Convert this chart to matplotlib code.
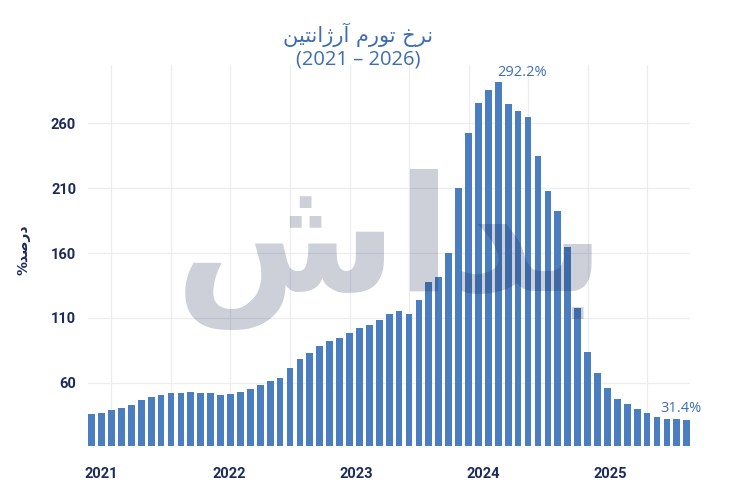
import matplotlib
matplotlib.use("Agg")
import matplotlib.pyplot as plt
import numpy as np
import pandas as pd

# ---- data (monthly YoY inflation, Nov 2020 - Nov 2025) ----
months = pd.date_range("2020-11-01", periods=61, freq="MS").strftime("%Y-%m").tolist()
inflation = [35.6, 36.4, 38.9, 40.8, 42.8, 46.9, 48.9, 50.8, 51.8, 51.8,
             52.8, 51.8, 51.8, 50.8, 51.0, 52.8, 55.1, 57.9, 61.0, 63.8,
             71.0, 78.2, 83.3, 88.2, 92.3, 94.3, 98.5, 102.3, 104.3, 108.5,
             113.3, 115.6, 113.3, 123.5, 137.4, 141.5, 160.0, 210.5, 252.8, 276.0,
             285.6, 292.2, 275.0, 269.7, 264.6, 235.1, 208.2, 192.1, 164.6, 117.7,
             83.8, 67.2, 55.6, 47.7, 43.8, 39.5, 36.4, 33.5, 31.8, 31.8,
             31.4]
year_labels = ["2021", "2022", "2023", "2024", "2025"]
y_ticks = [60, 110, 160, 210, 260]
peak_label = "292.2%"
last_label = "31.4%"

# Persian texts (presentation forms, visual order)
title_fa = ("\uFEE6\uFEF4\uFE98\uFEE7\uFE8D\uFB8A\uFEAD\uFE81 "
            "\uFEE1\uFEAD\uFEEE\uFE97 "
            "\uFEA5\uFEAE\uFEE7")
title_years = "(2021 \u2013 2026)"
ylabel_fa = "%\uFEAA\uFEBB\uFEAD\uFEA9"
watermark = "\uFEB5\uFE8D\uFEAA\uFE91"

BAR = "#4a7ec0"
NAVY = "#1d2b5c"
TBLUE = "#3d6db3"
TICKFONT = ["Roboto", "DejaVu Sans"]

fig = plt.figure(figsize=(7.5, 5), dpi=100)
ax = fig.add_axes([0.1173, 0.108, 0.8027, 0.762])

x = np.arange(len(inflation))
ax.bar(x, inflation, width=0.68, color=BAR, zorder=2)

ax.set_xlim(-0.37, len(inflation) - 1 + 0.33)
ax.set_ylim(11.2, 305)

# gridlines at Jan / Jul
jan_jul = [i for i, m in enumerate(months) if m.endswith("-01") or m.endswith("-07")]
ax.set_xticks(jan_jul)
ax.set_xticklabels([])
ax.tick_params(axis="x", which="major", length=0)
ax.set_yticks(y_ticks)
ax.set_yticklabels([str(v) for v in y_ticks], fontfamily=TICKFONT,
                   fontweight="bold", fontsize=10.5, color=NAVY)
ax.tick_params(axis="y", length=0, pad=8.5)
ax.grid(True, which="major", color="#ededf1", linewidth=0.9, zorder=0)

# year labels (evenly spread)
year_pos = np.linspace(1.0, 52.3, len(year_labels))
ax.set_xticks(year_pos, minor=True)
ax.set_xticklabels(year_labels, minor=True, fontfamily=TICKFONT,
                   fontweight="bold", fontsize=10.5, color=NAVY)
ax.tick_params(axis="x", which="minor", length=0, pad=15)

for s in ax.spines.values():
    s.set_visible(False)

# data labels
ipk = int(np.argmax(inflation))
ax.annotate(peak_label, (ipk, inflation[ipk]), xytext=(17, 1),
            textcoords="offset points", ha="center", va="bottom",
            fontsize=10.5, color=TBLUE, fontfamily=["Open Sans", "DejaVu Sans"])
ax.annotate(last_label, (len(inflation) - 1, inflation[-1]), xytext=(-4, 3),
            textcoords="offset points", ha="center", va="bottom",
            fontsize=10.5, color=TBLUE, fontfamily=["Open Sans", "DejaVu Sans"],
            annotation_clip=False)

# watermark
fig.text(0.52, 0.50, watermark, fontsize=116, fontweight="bold",
         color="#16214f", alpha=0.21, ha="center", va="center",
         family="DejaVu Sans", zorder=5)

# titles
fig.text(0.477, 0.930, title_fa, ha="center", va="center", fontsize=15,
         color=TBLUE, family="DejaVu Sans", fontweight="medium")
fig.text(0.477, 0.880, title_years, ha="center", va="center", fontsize=14.5,
         color=TBLUE, family=["Open Sans", "DejaVu Sans"], fontweight="medium")

# y label
fig.text(0.031, 0.50, ylabel_fa, rotation=90, ha="center", va="center",
         fontsize=10, color=NAVY, family="DejaVu Sans", fontweight="bold")

fig.savefig("out.png", dpi=100)
